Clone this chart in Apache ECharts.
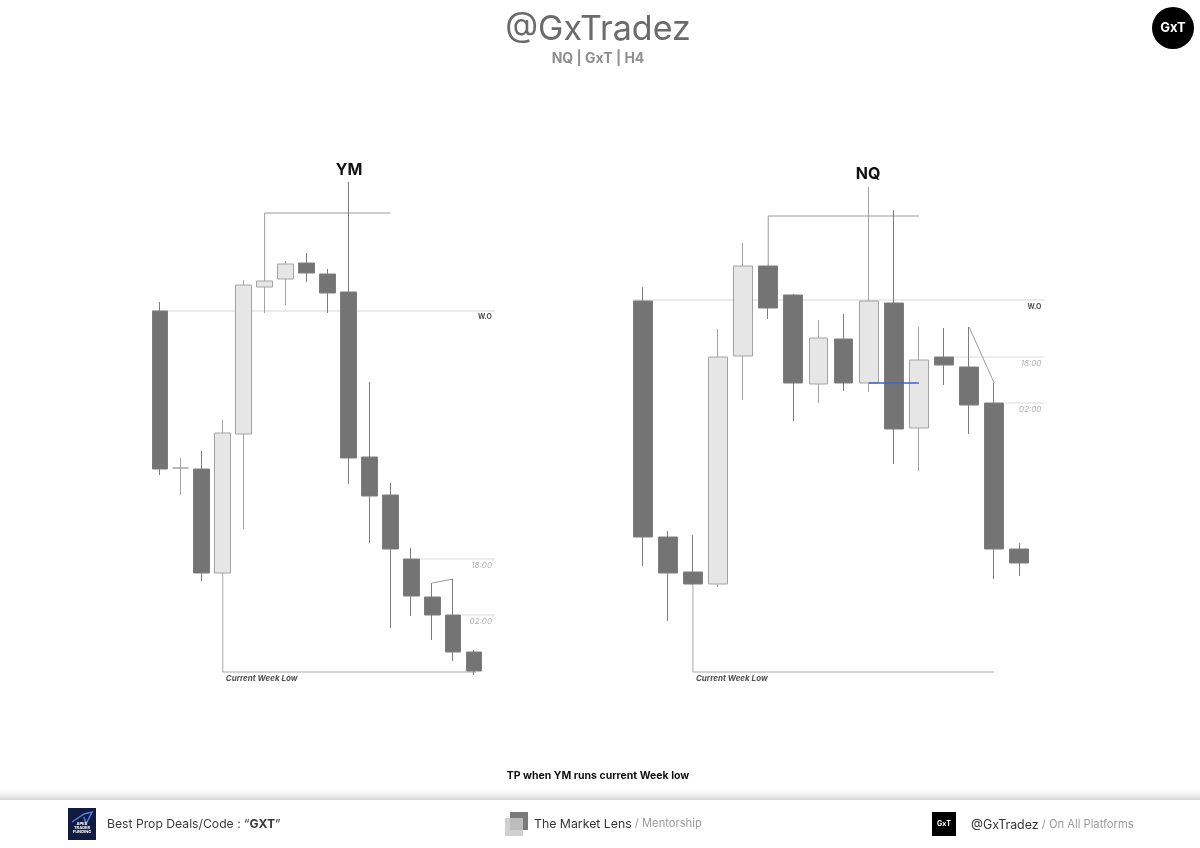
<!DOCTYPE html>
<html>
<head>
<meta charset="utf-8">
<script src="https://cdn.jsdelivr.net/npm/echarts@6/dist/echarts.min.js"></script>
<style>
html,body{margin:0;padding:0;background:#fff;}
#chart{width:1200px;height:848px;}
</style>
</head>
<body>
<div id="chart"></div>
<script>
// ---------- DATA ----------
// candle slots (one extra empty slot on the right for level labels)
const ymCategories = ['1','2','3','4','5','6','7','8','9','10','11','12','13','14','15','16','17'];
const nqCategories = ['1','2','3','4','5','6','7','8','9','10','11','12','13','14','15','16','17'];

// [open, close, low, high]
const ymCandles = [
  [42800, 42484, 42472, 42818],
  [42486, 42486, 42432, 42506],
  [42484, 42276, 42260, 42520],
  [42276, 42556, 42274, 42582],
  [42554, 42852, 42364, 42862],
  [42848, 42860, 42796, 42862],
  [42864, 42894, 42812, 42900],
  [42896, 42876, 42858, 42916],
  [42874, 42836, 42796, 42884],
  [42838, 42506, 42454, 43058],
  [42508, 42430, 42336, 42658],
  [42432, 42324, 42166, 42456],
  [42304, 42230, 42190, 42326],
  [42228, 42192, 42142, 42256],
  [42192, 42118, 42100, 42264],
  [42118, 42080, 42072, 42122]
];
const nqCandles = [
  [21199, 20963, 20934, 21213],
  [20963, 20927, 20879, 20969],
  [20928, 20916, 20915, 20965],
  [20916, 21143, 20913, 21171],
  [21144, 21234, 21100, 21257],
  [21234, 21192, 21181, 21234],
  [21205, 21117, 21079, 21206],
  [21116, 21162, 21097, 21180],
  [21161, 21117, 21109, 21186],
  [21117, 21199, 21108, 21313],
  [21197, 21071, 21036, 21290],
  [21072, 21140, 21029, 21173],
  [21143, 21135, 21115, 21172],
  [21133, 21095, 21066, 21173],
  [21097, 20951, 20921, 21117],
  [20951, 20937, 20924, 20957]
];

// price levels
const ymLevels = { wo: 42800, high: 42996, s18: 42304, s02: 42192, cwl: 42078 };
const nqLevels = { wo: 21200, high: 21284, s18: 21143, s02: 21097, cwl: 20828, blue: 21117 };

// annotation paths: [slot index, price]
const ymWeekOpen   = [[-0.39, ymLevels.wo], [16, ymLevels.wo]];
const ymHighBox    = [[5, 42860], [5, ymLevels.high], [11, ymLevels.high]];
const ym18Line     = [[12.38, ymLevels.s18], [16, ymLevels.s18]];
const ym02Line     = [[14.38, ymLevels.s02], [16, ymLevels.s02]];
const ymLowBracket = [[3, 42276], [3, ymLevels.cwl], [15.1, ymLevels.cwl]];
const ymHighLink   = [[13, 42256], [14, 42264]];

const nqWeekOpen   = [[-0.39, nqLevels.wo], [16, nqLevels.wo]];
const nqHighBox    = [[5, 21234], [5, nqLevels.high], [11, nqLevels.high]];
const nqBlueLine   = [[9, nqLevels.blue], [11, nqLevels.blue]];
const nq18Line     = [[12.36, nqLevels.s18], [16, nqLevels.s18]];
const nq02Line     = [[14.43, nqLevels.s02], [16, nqLevels.s02]];
const nqLowBracket = [[2, 20915], [2, nqLevels.cwl], [14, nqLevels.cwl]];
const nqHighLink   = [[13, 21173], [14, 21117]];

// ---------- CHART ----------
const chart = echarts.init(document.getElementById('chart'), null, {renderer: 'canvas'});
const FONT = 'Inter, "Noto Sans", sans-serif';

function pathSeries(data, xIdx, yIdx, color, width) {
  return {
    type: 'line', xAxisIndex: xIdx, yAxisIndex: yIdx, data: data,
    symbol: 'none', silent: true, animation: false, z: 1,
    lineStyle: { color: color || '#a8a8a8', width: width || 1 }
  };
}
function labelSeries(pt, text, xIdx, yIdx, pos, offset, style) {
  return {
    type: 'scatter', xAxisIndex: xIdx, yAxisIndex: yIdx, data: [pt],
    symbolSize: 0, silent: true, animation: false,
    label: Object.assign({ show: true, formatter: text, position: pos, distance: 3, offset: offset,
      fontFamily: FONT }, style)
  };
}
const woStyle = { fontSize: 7, fontWeight: 'bold', color: '#222' };
const timeStyle = { fontSize: 8, fontStyle: 'italic', color: '#9a9a9a' };
const cwlStyle = { fontSize: 8, fontStyle: 'italic', fontWeight: 'bold', color: '#222' };

const candleStyle = {
  color: '#e6e6e6', color0: '#747474',
  borderColor: '#a3a3a3', borderColor0: '#7c7c7c', borderWidth: 1
};

const option = {
  backgroundColor: '#ffffff',
  animation: false,
  grid: [
    { left: 149.5, top: 170, width: 355.9, height: 520 },
    { left: 630.15, top: 170, width: 426.8, height: 520 }
  ],
  xAxis: [
    { type: 'category', gridIndex: 0, data: ymCategories, show: false, boundaryGap: true },
    { type: 'value', gridIndex: 0, min: -0.5, max: 16.5, show: false },
    { type: 'category', gridIndex: 1, data: nqCategories, show: false, boundaryGap: true },
    { type: 'value', gridIndex: 1, min: -0.5, max: 16.5, show: false }
  ],
  yAxis: [
    { type: 'value', gridIndex: 0, min: 42042, max: 43082, show: false, splitLine: {show: false} },
    { type: 'value', gridIndex: 1, min: 20810, max: 21330, show: false, splitLine: {show: false} }
  ],
  series: [
    pathSeries(ymWeekOpen, 1, 0, '#d6d6d6'),
    pathSeries(ymHighBox, 1, 0, '#9a9a9a'),
    pathSeries(ym18Line, 1, 0, '#dcdcdc'),
    pathSeries(ym02Line, 1, 0, '#dcdcdc'),
    pathSeries(ymLowBracket, 1, 0, '#a8a8a8'),
    pathSeries(ymHighLink, 1, 0, '#9a9a9a'),
    pathSeries(nqWeekOpen, 3, 1, '#d6d6d6'),
    pathSeries(nqHighBox, 3, 1, '#9a9a9a'),
    pathSeries(nq18Line, 3, 1, '#dcdcdc'),
    pathSeries(nq02Line, 3, 1, '#dcdcdc'),
    pathSeries(nqLowBracket, 3, 1, '#a8a8a8'),
    pathSeries(nqHighLink, 3, 1, '#9a9a9a'),
    {
      type: 'candlestick', name: 'YM', xAxisIndex: 0, yAxisIndex: 0,
      data: ymCandles, barWidth: '78%', itemStyle: candleStyle, z: 3
    },
    {
      type: 'candlestick', name: 'NQ', xAxisIndex: 2, yAxisIndex: 1,
      data: nqCandles, barWidth: '77%', itemStyle: candleStyle, z: 3
    },
    Object.assign(pathSeries(nqBlueLine, 3, 1, '#3f62c8', 1.5), { z: 5 }),
    labelSeries([16, ymLevels.wo], 'W.O', 1, 0, 'left', [0, 6], woStyle),
    labelSeries([16, ymLevels.s18], '18:00', 1, 0, 'left', [0, 7], timeStyle),
    labelSeries([16, ymLevels.s02], '02:00', 1, 0, 'left', [0, 7], timeStyle),
    labelSeries([3, ymLevels.cwl], 'Current Week Low', 1, 0, 'right', [0, 7], cwlStyle),
    labelSeries([16, nqLevels.wo], 'W.O', 3, 1, 'left', [0, 7], woStyle),
    labelSeries([16, nqLevels.s18], '18:00', 3, 1, 'left', [0, 7], timeStyle),
    labelSeries([16, nqLevels.s02], '02:00', 3, 1, 'left', [0, 7], timeStyle),
    labelSeries([2, nqLevels.cwl], 'Current Week Low', 3, 1, 'right', [0, 7], cwlStyle)
  ],
  graphic: [
    // header
    { type: 'text', x: 598, y: 30, style: { text: '@GxTradez', font: '34px ' + FONT, fill: '#6b6b6b', textAlign: 'center', textVerticalAlign: 'middle' } },
    { type: 'text', x: 598, y: 59, style: { text: 'NQ | GxT | H4', font: 'bold 14px ' + FONT, fill: '#8f8f8f', textAlign: 'center', textVerticalAlign: 'middle' } },
    { type: 'circle', shape: { cx: 1173, cy: 28, r: 21 }, style: { fill: '#000' } },
    { type: 'text', x: 1173, y: 28, style: { text: 'GxT', font: 'bold 13px ' + FONT, fill: '#fff', textAlign: 'center', textVerticalAlign: 'middle' } },
    // chart titles
    { type: 'text', x: 349, y: 170, style: { text: 'YM', font: 'bold 16px ' + FONT, fill: '#111', textAlign: 'center', textVerticalAlign: 'middle' } },
    { type: 'text', x: 868, y: 174, style: { text: 'NQ', font: 'bold 16px ' + FONT, fill: '#111', textAlign: 'center', textVerticalAlign: 'middle' } },
    // caption
    { type: 'text', x: 598, y: 776, style: { text: 'TP when YM runs current Week low', font: 'bold 10.5px ' + FONT, fill: '#111', textAlign: 'center', textVerticalAlign: 'middle' } },
    // footer shadow
    { type: 'rect', shape: { x: 0, y: 786, width: 1200, height: 14 }, style: { fill: new echarts.graphic.LinearGradient(0, 0, 0, 1, [{offset: 0, color: 'rgba(255,255,255,0)'}, {offset: 1, color: '#d4d4d4'}]) } },
    { type: 'rect', shape: { x: 0, y: 800, width: 1200, height: 48 }, style: { fill: '#ffffff' } },
    // footer left
    { type: 'rect', shape: { x: 68, y: 808, width: 28, height: 32 }, style: { fill: '#0f1b40' } },
    { type: 'polyline', shape: { points: [[72, 822], [84, 814], [92, 812], [86, 824], [84, 817]] }, style: { stroke: '#5b7be0', lineWidth: 1.5, fill: 'none' } },
    { type: 'text', x: 82, y: 828, style: { text: 'APEX\nTRADER\nFUNDING', font: 'bold 4px ' + FONT, fill: '#fff', textAlign: 'center', textVerticalAlign: 'middle', lineHeight: 4 } },
    { type: 'text', x: 107, y: 824, style: { text: '{n|Best Prop Deals/Code : “}{b|GXT}{n|”}', textVerticalAlign: 'middle',
      rich: { n: { font: '12.2px ' + FONT, fill: '#3a3a3a' }, b: { font: 'bold 12.2px ' + FONT, fill: '#3a3a3a' } } } },
    // footer centre
    { type: 'rect', shape: { x: 510, y: 812, width: 18, height: 18 }, style: { fill: '#7a7a7a' } },
    { type: 'rect', shape: { x: 505, y: 818, width: 18, height: 18 }, style: { fill: 'rgba(200,200,200,0.85)' } },
    { type: 'text', x: 534, y: 824, style: { text: '{n|The Market Lens}{g| / Mentorship}', textVerticalAlign: 'middle',
      rich: { n: { font: '12.3px ' + FONT, fill: '#333' }, g: { font: '11.2px ' + FONT, fill: '#9a9a9a' } } } },
    // footer right
    { type: 'rect', shape: { x: 932, y: 812, width: 24, height: 24 }, style: { fill: '#000' } },
    { type: 'text', x: 944, y: 824, style: { text: 'GxT', font: 'bold 7px ' + FONT, fill: '#fff', textAlign: 'center', textVerticalAlign: 'middle' } },
    { type: 'text', x: 971, y: 825, style: { text: '{n|@GxTradez}{g| / On All Platforms}', textVerticalAlign: 'middle',
      rich: { n: { font: '12.4px ' + FONT, fill: '#333' }, g: { font: '11.2px ' + FONT, fill: '#9a9a9a' } } } }
  ]
};
chart.setOption(option);
</script>
</body>
</html>
